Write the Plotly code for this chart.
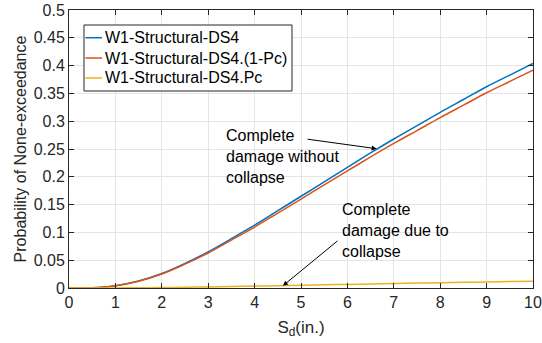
import plotly.graph_objects as go

sd = [0, 0.5, 1, 1.5, 2, 2.5, 3, 3.5, 4, 4.5, 5, 5.5, 6, 6.5, 7, 7.5, 8, 8.5, 9, 9.5, 10]
ds4 = [0, 0.0003, 0.004, 0.0125, 0.026, 0.0443, 0.065, 0.0888, 0.113, 0.139, 0.165,
       0.191, 0.217, 0.243, 0.268, 0.292, 0.316, 0.339, 0.362, 0.383, 0.404]
ds4_1mpc = [0, 0.0003, 0.0039, 0.0121, 0.0252, 0.043, 0.063, 0.0861, 0.1096, 0.1348, 0.160,
            0.1853, 0.2105, 0.2357, 0.260, 0.2832, 0.3065, 0.3288, 0.3511, 0.3715, 0.392]
ds4_pc = [0, 0.00001, 0.0001, 0.0004, 0.0008, 0.0013, 0.002, 0.0027, 0.0034, 0.0042, 0.005,
          0.0057, 0.0065, 0.0073, 0.008, 0.0088, 0.0095, 0.0102, 0.0109, 0.0115, 0.0121]

names = ["W1-Structural-DS4", "W1-Structural-DS4.(1-Pc)", "W1-Structural-DS4.Pc"]
colors = ["#0072BD", "#D95319", "#EDB120"]

FONT = "Liberation Sans, Arial, sans-serif"
TXT = "#262626"

fig = go.Figure()
for y, n, c in zip([ds4, ds4_1mpc, ds4_pc], names, colors):
    fig.add_trace(go.Scatter(x=sd, y=y, mode="lines", name=n, showlegend=False,
                             line=dict(color=c, width=1.5, shape="spline")))

axis_common = dict(showline=True, linecolor="#262626", linewidth=1, mirror="ticks",
                   ticks="inside", ticklen=5, tickcolor="#262626",
                   showgrid=True, gridcolor="#e5e5e5", gridwidth=1, zeroline=False,
                   automargin=False,
                   tickfont=dict(family=FONT, size=16, color=TXT))

fig.update_xaxes(range=[0, 10], dtick=1, **axis_common,
                 title=dict(text="S<sub>d</sub>(in.)", font=dict(family=FONT, size=17, color=TXT),
                            standoff=10))
fig.update_yaxes(range=[0, 0.5], dtick=0.05, **axis_common,
                 title=dict(text="Probability of None-exceedance",
                            font=dict(family=FONT, size=16, color=TXT), standoff=3))

# custom MATLAB-like legend (paper coordinates)
lg_x0, lg_x1, lg_y0, lg_y1 = 0.0323, 0.4806, 0.7086, 0.946
entry_y = [0.9003, 0.8273, 0.7554]
fig.add_shape(type="rect", xref="paper", yref="paper", x0=lg_x0, x1=lg_x1, y0=lg_y0, y1=lg_y1,
              fillcolor="white", line=dict(color="#262626", width=1), layer="above")
for ey, n, c in zip(entry_y, names, colors):
    fig.add_shape(type="line", xref="paper", yref="paper", x0=lg_x0 + 0.003, x1=0.0711, y0=ey, y1=ey,
                  line=dict(color=c, width=1.5), layer="above")
    fig.add_annotation(x=0.0733, y=ey, xref="paper", yref="paper", text=n, showarrow=False,
                       xanchor="left", yanchor="middle", font=dict(family=FONT, size=16, color="black"))

# annotation texts
fig.add_annotation(x=3.35, y=0.236, xref="x", yref="y", text="Complete<br>damage without<br>collapse",
                   showarrow=False, xanchor="left", yanchor="middle", align="left",
                   font=dict(family=FONT, size=16, color="black"))
fig.add_annotation(x=5.85, y=0.103, xref="x", yref="y", text="Complete<br>damage due to<br>collapse",
                   showarrow=False, xanchor="left", yanchor="middle", align="left",
                   font=dict(family=FONT, size=16, color="black"))
# arrows
fig.add_annotation(x=6.63, y=0.2505, ax=5.11, ay=0.268, xref="x", yref="y", axref="x", ayref="y",
                   text="", showarrow=True, arrowhead=2, arrowsize=1, arrowwidth=1, arrowcolor="black")
fig.add_annotation(x=4.61, y=0.004, ax=5.82, ay=0.087, xref="x", yref="y", axref="x", ayref="y",
                   text="", showarrow=True, arrowhead=2, arrowsize=1, arrowwidth=1, arrowcolor="black")

fig.update_layout(
    width=542, height=343,
    margin=dict(l=69, r=9, t=10, b=55),
    paper_bgcolor="white", plot_bgcolor="white",
    showlegend=False,
)

fig.write_html("out.html")
